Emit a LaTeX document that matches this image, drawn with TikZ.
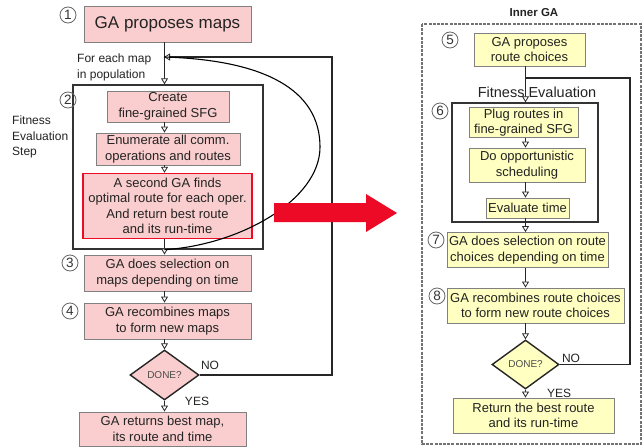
\documentclass[tikz,border=0pt]{standalone}
\usepackage{fontspec}
\setmainfont{Liberation Sans}
\usetikzlibrary{arrows.meta,shapes.geometric}
\definecolor{pinkf}{RGB}{250,206,206}
\definecolor{yelf}{RGB}{255,255,194}
\definecolor{boxd}{RGB}{128,128,128}
\definecolor{redb}{RGB}{236,10,38}
\definecolor{txt}{RGB}{35,35,35}
\tikzset{
  base/.style={draw=boxd, line width=0.9pt, align=center, inner sep=1pt, text=txt,
    font=\fontsize{13}{15.5}\selectfont},
  pbox/.style={base, fill=pinkf},
  ybox/.style={base, fill=yelf},
  frame/.style={draw=black!80, line width=1.4pt, inner sep=0pt},
  conn/.style={draw=black!85, line width=1.2pt},
  arr/.style={conn, -{Triangle[length=6pt, width=7pt, fill=white, line width=0.8pt]}},
  num/.style={circle, draw=black!60, line width=0.8pt, minimum size=16pt, inner sep=0pt,
    font=\fontsize{13.5}{13.5}\selectfont, text=black!80},
  dia/.style={diamond, draw=black!85, line width=1.4pt, inner sep=0pt, aspect=1.4,
    font=\fontsize{10}{10}\selectfont, text=black!70},
  lbl/.style={text=txt, font=\fontsize{12}{15.5}\selectfont, align=left, inner sep=0pt},
  dashframe/.style={draw=black!55, line width=1.2pt, dash pattern=on 3pt off 1.2pt}
}
\begin{document}
\begin{tikzpicture}[x=1pt,y=-1pt]
\path[use as bounding box, fill=white] (0,0) rectangle (642,447);

% ---------------- left diagram ----------------
\node[frame, minimum width=190, minimum height=164] (f2) at (168,167) {};
\node[pbox, minimum width=167, minimum height=36, font=\fontsize{17}{19}\selectfont] (b1) at (167.5,24) {GA proposes maps};
\node[pbox, minimum width=122, minimum height=31] (c1) at (168,106.5) {Create\\fine-grained SFG};
\node[pbox, minimum width=144, minimum height=32] (c2) at (168,149) {Enumerate all comm.\\operations and routes};
\node[pbox, draw=redb, line width=1.5pt, minimum width=169, minimum height=65] (rd) at (167.5,206)
  {A second GA finds\\optimal route for each oper.\\And return best route\\and its run-time};
\node[pbox, minimum width=167, minimum height=36] (b3) at (167.5,273) {GA does selection on\\maps depending on time};
\node[pbox, minimum width=167, minimum height=36] (b4) at (167.5,321) {GA recombines maps\\to form new maps};
\node[dia, fill=pinkf, minimum width=69, minimum height=50] (dn1) at (164.5,375) {DONE?};
\node[pbox, minimum width=167, minimum height=34] (fin) at (162.5,429) {GA returns best map,\\its route and time};

\node[num] (n1) at (68,15) {1};
\node[num] (n2) at (68,100) {2};
\node[num] (n3) at (70,263) {3};
\node[num] (n4) at (70,311) {4};

\node[lbl, anchor=west] (tfor) at (77,67.5) {For each map\\in population};
\node[lbl, anchor=west] (tfit) at (12,137) {Fitness\\Evaluation\\Step};
\node[lbl] (tno1) at (210,365) {NO};
\node[lbl] (tyes1) at (197,401) {YES};

\coordinate (j1) at (164,57);
\coordinate (lr) at (332,0);

\draw[arr] (b1.south -| dn1) -- (f2.north -| dn1);
\draw[arr] (c1.south -| dn1) -- (c2.north -| dn1);
\draw[arr] (c2.south -| dn1) -- (rd.north -| dn1);
\draw[conn] (rd.south -| dn1) -- (f2.south -| dn1);
\draw[arr] (f2.south -| dn1) -- (b3.north -| dn1);
\draw[arr] (b3.south -| dn1) -- (b4.north -| dn1);
\draw[arr] (b4.south -| dn1) -- (dn1.north);
\draw[arr] (dn1.south) -- (fin.north -| dn1);
\draw[arr] (dn1.east) -- (dn1.east -| lr) -- (lr |- j1) -- (j1);
\draw[draw=black, line width=1.1pt] (j1) .. controls (265,60) and (320,90) .. (320,147)
   .. controls (320,200) and (240,245) .. (f2.south -| dn1);

% big red arrow
\fill[redb] (274,203) -- (366,203) -- (366,194) -- (397,213) -- (366,232) -- (366,222) -- (274,222) -- cycle;

% ---------------- right diagram ----------------
\node[font=\bfseries\fontsize{11.5}{12}\selectfont, text=txt, inner sep=0pt] (tin) at (534,13) {Inner GA};
\draw[dashframe] (422,24) rectangle (641,444);

\node[frame, minimum width=146, minimum height=119] (f6) at (525,162.5) {};
\node[ybox, minimum width=111, minimum height=33] (r5) at (529.5,49.5) {GA proposes\\route choices};
\node[ybox, minimum width=109, minimum height=29] (p1) at (523.5,122.5) {Plug routes in\\fine-grained SFG};
\node[ybox, minimum width=116, minimum height=34] (p2) at (527,165) {Do opportunistic\\scheduling};
\node[ybox, minimum width=83, minimum height=20] (p3) at (527.5,208) {Evaluate time};
\node[ybox, minimum width=161, minimum height=35] (r7) at (527.5,250) {GA does selection on route\\choices depending on time};
\node[ybox, minimum width=177, minimum height=35] (r8) at (535.5,305.5) {GA recombines route choices\\to form new route choices};
\node[dia, fill=yelf, minimum width=67, minimum height=49] (dn2) at (525.5,364.5) {DONE?};
\node[ybox, minimum width=161, minimum height=35] (ret) at (533.5,415.5) {Return the best route\\and its run-time};

\node[num] (n5) at (450,40) {5};
\node[num] (n6) at (440,111) {6};
\node[num] (n7) at (436,240) {7};
\node[num] (n8) at (437,296) {8};

\node[lbl] (tno2) at (571,358) {NO};
\node[lbl] (tyes2) at (559,393) {YES};

\coordinate (j3) at (525,78);
\coordinate (rr) at (630,0);

\draw[arr] (r5.south -| dn2) -- (f6.north -| dn2);
\node[text=txt, font=\fontsize{14.5}{15}\selectfont, inner sep=0pt] (tfe) at (537,92) {Fitness Evaluation};
\draw[arr] (p1.south -| dn2) -- (p2.north -| dn2);
\draw[arr] (p2.south -| dn2) -- (p3.north -| dn2);
\draw[conn] (p3.south -| dn2) -- (f6.south -| dn2);
\draw[arr] (f6.south -| dn2) -- (r7.north -| dn2);
\draw[arr] (r7.south -| dn2) -- (r8.north -| dn2);
\draw[arr] (r8.south -| dn2) -- (dn2.north);
\draw[arr] (dn2.south) -- (ret.north -| dn2);
\draw[conn] (dn2.east) -- (dn2.east -| rr) -- (rr |- j3) -- (j3);
\end{tikzpicture}
\end{document}
